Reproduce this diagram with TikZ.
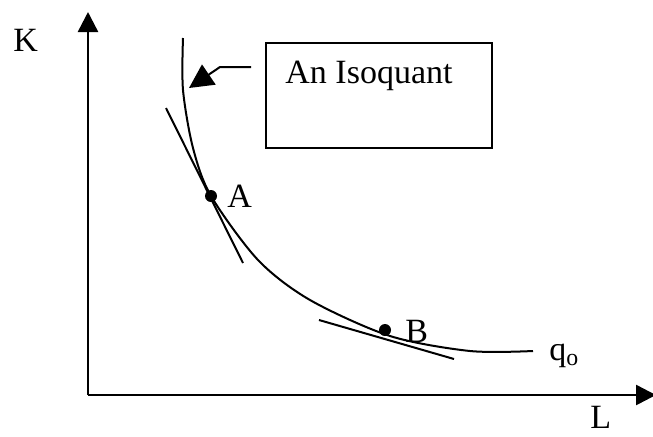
\documentclass[tikz,border=0pt]{standalone}
\usepackage{fontspec}
\setmainfont{Liberation Serif}
\usetikzlibrary{arrows.meta}
\definecolor{ink}{RGB}{0,0,0}
\tikzset{
  axis/.style={ink, line width=1.25pt, -{Triangle[length=10pt,width=10pt]}},
  curve/.style={ink, line width=1pt},
  tangent/.style={ink, line width=1pt},
  lbl/.style={font=\fontsize{17}{20}\selectfont, inner sep=0pt, anchor=base west},
  callout/.style={ink, line width=1pt, -{Triangle[length=12pt,width=12pt]}},
  pt/.style={ink, circle, fill, inner sep=0pt, minimum size=6pt},
}

\begin{document}
\begin{tikzpicture}[x=0.5pt,y=-0.5pt]
        \useasboundingbox (0,0) rectangle (653,436);
        % axes
        \coordinate (O) at (88,395);
        \coordinate (Ktop) at (88,12);
        \coordinate (Lend) at (656,395);
        \draw[axis] (O) -- (Ktop);
        \draw[axis] (O) -- (Lend);
        \node[lbl] (K) at (13,51) {K};
        \node[lbl] (L) at (590,428) {L};
        % isoquant
        \draw[curve] plot[smooth] coordinates {(183,38) (183,90) (193,148) (211,196) (258,260) (310,300) (390,336) (470,351) (533,351)};
        \node[lbl] (q) at (549,360) {q\textsubscript{o}};
        % tangents
        \coordinate (tA1) at (166,108);
        \coordinate (tA2) at (243,263);
        \draw[tangent] (tA1) -- (tA2);
        \coordinate (tB1) at (319,320);
        \coordinate (tB2) at (454,359);
        \draw[tangent] (tB1) -- (tB2);
        \node[pt] (A) at (211,196) {};
        \node[pt] (B) at (385,330) {};
        \node[lbl] (Alab) at (227,207) {A};
        \node[lbl] (Blab) at (405,342) {B};
        % label box
        \node[draw=ink, line width=1pt, minimum width=113pt, minimum height=52.5pt, inner sep=0pt] (box) at (379,95.5) {};
        \node[lbl] (iso) at (285,83) {An Isoquant};
        \coordinate (c1) at (251,67);
        \coordinate (c2) at (220,67);
        \coordinate (tip) at (189,88);
        \draw[callout] (c1) -- (c2) -- (tip);
\end{tikzpicture}
\end{document}
